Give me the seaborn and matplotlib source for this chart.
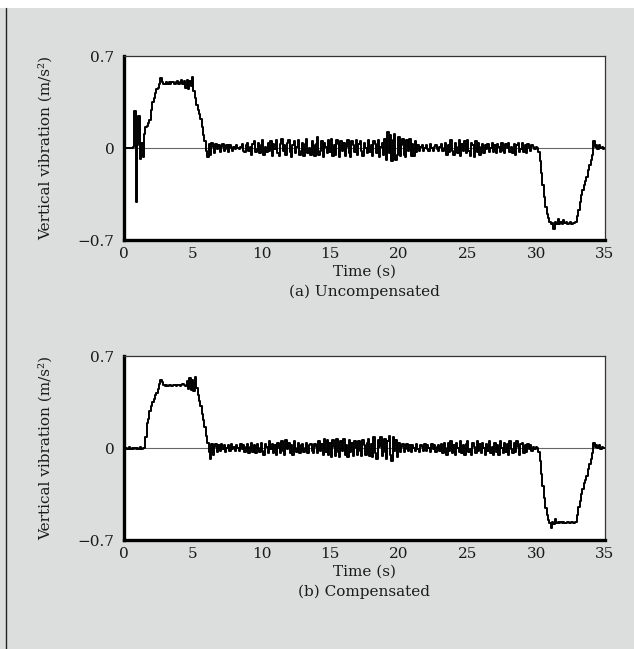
import numpy as np
import matplotlib
matplotlib.use("Agg")
import matplotlib.pyplot as plt
from matplotlib.lines import Line2D
from matplotlib.patches import Rectangle
import seaborn as sns

# Vertical vibration sampled every 0.1 s, one row per second (0 s ... 35 s)
SAMPLE_STEP = 0.1

uncompensated = [
    0.0, 0.0, 0.0, 0.0, 0.0, 0.0, 0.0, 0.01, 0.28, -0.41,
    0.02, 0.24, -0.08, 0.04, -0.07, 0.11, 0.16, 0.17, 0.19, 0.21,
    0.29, 0.35, 0.38, 0.42, 0.45, 0.46, 0.49, 0.53, 0.50, 0.49,
    0.49, 0.50, 0.49, 0.50, 0.49, 0.50, 0.50, 0.49, 0.50, 0.51,
    0.49, 0.50, 0.52, 0.49, 0.51, 0.46, 0.52, 0.45, 0.51, 0.47,
    0.54, 0.43, 0.38, 0.33, 0.29, 0.26, 0.22, 0.16, 0.10, 0.05,
    -0.02, -0.07, 0.03, -0.05, 0.04, 0.01, -0.04, 0.03, -0.01, 0.02,
    -0.03, 0.01, 0.03, -0.02, -0.01, 0.02, -0.03, 0.02, 0.0, -0.02,
    0.01, -0.01, 0.02, 0.0, -0.01, 0.01, 0.03, -0.02, -0.03, 0.02,
    0.04, -0.02, 0.01, -0.05, 0.03, 0.05, -0.03, -0.01, 0.04, -0.04,
    0.02, 0.06, -0.05, 0.01, -0.03, 0.04, -0.02, 0.05, -0.06, 0.03,
    -0.01, 0.06, -0.04, -0.06, 0.03, 0.07, -0.02, 0.02, -0.05, 0.04,
    0.06, -0.03, -0.07, 0.02, 0.05, -0.04, 0.01, 0.06, -0.05, -0.02,
    0.04, -0.06, 0.03, 0.07, -0.04, 0.0, -0.05, 0.05, 0.02, -0.06,
    0.03, 0.08, -0.05, -0.02, 0.05, -0.07, 0.04, 0.01, -0.04, 0.06,
    -0.03, 0.07, -0.06, 0.02, -0.05, 0.06, 0.03, -0.07, 0.05, -0.02,
    0.04, -0.06, 0.01, 0.06, -0.04, -0.07, 0.05, 0.02, -0.03, 0.06,
    -0.05, 0.03, 0.05, -0.02, -0.06, 0.04, 0.0, -0.04, 0.06, -0.03,
    0.02, -0.06, 0.05, 0.03, -0.04, 0.06, -0.07, 0.01, 0.04, -0.05,
    0.07, -0.09, 0.12, -0.04, 0.10, -0.10, 0.06, 0.11, -0.09, -0.05,
    0.08, -0.06, 0.02, 0.07, -0.05, -0.07, 0.06, -0.02, 0.07, -0.06,
    0.03, -0.06, 0.05, -0.03, 0.02, -0.02, 0.01, 0.02, -0.02, 0.0,
    0.02, -0.01, -0.02, 0.03, 0.0, -0.02, 0.01, 0.02, -0.01, -0.02,
    0.01, 0.03, -0.02, 0.0, 0.04, -0.05, 0.02, -0.03, 0.06, -0.02,
    -0.05, 0.04, 0.01, -0.04, 0.06, -0.06, 0.03, -0.02, 0.05, -0.04,
    0.06, -0.02, -0.06, 0.04, 0.02, -0.07, 0.05, -0.03, 0.04, -0.05,
    0.01, 0.03, -0.04, 0.02, -0.01, 0.03, -0.03, 0.0, 0.04, -0.03,
    0.02, -0.04, 0.03, 0.01, -0.03, 0.04, -0.02, -0.04, 0.03, 0.0,
    0.04, -0.03, 0.01, -0.04, 0.03, -0.05, 0.02, 0.04, -0.03, -0.01,
    0.04, -0.03, 0.02, -0.04, 0.03, 0.0, -0.02, 0.02, 0.01, -0.01,
    0.01, 0.0, -0.03, -0.10, -0.19, -0.28, -0.37, -0.45, -0.50, -0.53,
    -0.56, -0.58, -0.57, -0.62, -0.56, -0.58, -0.54, -0.58, -0.56, -0.58,
    -0.55, -0.57, -0.56, -0.58, -0.57, -0.56, -0.58, -0.57, -0.57, -0.56,
    -0.52, -0.47, -0.41, -0.36, -0.32, -0.28, -0.25, -0.22, -0.17, -0.13,
    -0.09, -0.05, 0.05, 0.01, 0.02, -0.01, 0.02, 0.0, 0.01, -0.01,
    0.0,
]

compensated = [
    0.0, -0.01, 0.0, -0.01, 0.01, -0.01, 0.0, -0.01, 0.0, -0.01,
    0.0, -0.01, 0.01, -0.01, 0.0, 0.0, 0.08, 0.19, 0.22, 0.28,
    0.32, 0.35, 0.37, 0.40, 0.42, 0.45, 0.49, 0.52, 0.50, 0.48,
    0.47, 0.48, 0.47, 0.48, 0.48, 0.47, 0.48, 0.48, 0.47, 0.48,
    0.48, 0.47, 0.48, 0.49, 0.48, 0.47, 0.51, 0.45, 0.53, 0.44,
    0.52, 0.43, 0.54, 0.46, 0.40, 0.36, 0.32, 0.26, 0.21, 0.16,
    0.09, 0.04, -0.03, -0.08, 0.03, -0.05, 0.01, 0.03, -0.03, 0.02,
    -0.02, 0.03, -0.01, 0.02, -0.03, 0.0, 0.02, -0.02, 0.03, -0.01,
    0.01, -0.02, 0.02, 0.0, -0.02, 0.03, -0.01, 0.02, -0.03, 0.01,
    0.03, -0.04, 0.01, 0.04, -0.03, 0.02, -0.04, 0.03, 0.0, -0.03,
    0.04, -0.02, -0.05, 0.03, 0.01, -0.04, 0.05, -0.01, 0.03, -0.04,
    0.02, -0.05, 0.04, 0.0, -0.04, 0.05, -0.02, -0.05, 0.06, -0.01,
    0.04, -0.04, 0.02, -0.05, 0.05, 0.0, -0.03, 0.04, -0.04, 0.02,
    0.03, -0.03, 0.0, 0.04, -0.04, 0.02, 0.03, -0.02, -0.04, 0.03,
    0.01, -0.04, 0.05, -0.02, 0.03, -0.05, 0.07, -0.03, 0.06, -0.05,
    0.04, -0.07, 0.06, 0.01, -0.06, 0.07, -0.03, -0.07, 0.05, -0.02,
    0.07, -0.05, 0.02, -0.07, 0.06, -0.03, 0.04, -0.06, 0.05, 0.0,
    -0.05, 0.05, -0.02, -0.06, 0.06, 0.02, -0.05, 0.04, 0.07, -0.06,
    0.03, -0.07, 0.08, -0.04, -0.08, 0.06, 0.01, 0.08, -0.06, -0.03,
    0.07, -0.08, 0.05, 0.09, -0.05, -0.10, 0.08, -0.02, 0.06, -0.07,
    0.04, -0.03, 0.01, 0.03, -0.03, -0.01, 0.03, -0.02, 0.02, -0.03,
    0.02, 0.0, -0.02, 0.03, -0.01, -0.03, 0.02, 0.01, -0.02, 0.03,
    -0.02, 0.02, 0.0, -0.03, 0.03, -0.01, 0.02, -0.03, 0.01, 0.02,
    -0.02, 0.03, -0.04, 0.04, 0.0, -0.05, 0.04, -0.02, 0.05, -0.04,
    0.02, -0.05, 0.04, 0.0, -0.03, 0.05, -0.04, 0.02, -0.05, 0.03,
    0.05, -0.03, -0.01, -0.05, 0.04, 0.01, -0.04, 0.05, -0.02, 0.03,
    -0.04, 0.04, 0.0, -0.05, 0.03, -0.02, 0.05, -0.04, 0.01, -0.05,
    0.04, -0.03, 0.02, -0.05, 0.05, 0.0, -0.04, 0.04, -0.03, 0.03,
    -0.05, 0.05, -0.01, -0.04, 0.04, -0.03, 0.05, 0.01, -0.05, 0.03,
    0.04, -0.04, 0.02, -0.03, 0.03, -0.01, 0.02, -0.02, 0.01, -0.01,
    0.01, 0.0, -0.03, -0.10, -0.20, -0.29, -0.38, -0.46, -0.51, -0.55,
    -0.57, -0.61, -0.56, -0.58, -0.54, -0.57, -0.56, -0.57, -0.56, -0.57,
    -0.56, -0.57, -0.57, -0.56, -0.57, -0.57, -0.56, -0.57, -0.57, -0.56,
    -0.51, -0.45, -0.40, -0.35, -0.31, -0.27, -0.24, -0.21, -0.16, -0.12,
    -0.08, -0.04, 0.04, 0.01, 0.02, 0.0, 0.02, -0.01, 0.01, 0.0,
    0.0,
]

panels = [
    (uncompensated, "(a) Uncompensated"),
    (compensated, "(b) Compensated"),
]
x_ticks = [0, 5, 10, 15, 20, 25, 30, 35]
y_ticks = [-0.7, 0, 0.7]
y_tick_labels = ["\u22120.7", "0", "0.7"]

BG = "#dcdedd"
TEXT = "#1a1a1a"

sns.set_style("white")
plt.rcParams["font.family"] = ["DejaVu Serif"]
plt.rcParams["font.size"] = 10

fig = plt.figure(figsize=(6.34, 6.49), dpi=100, facecolor=BG)

# white strip on top and dark rule down the left side, like the scanned page
fig.add_artist(Rectangle((0, 1 - 8 / 649), 1, 8 / 649, transform=fig.transFigure,
                         facecolor="white", edgecolor="none"))
fig.add_artist(Line2D([5.5 / 634, 5.5 / 634], [0, 1 - 8 / 649], transform=fig.transFigure,
                      color="#222222", lw=1.0))

axes_rects = [
    [124 / 634, 1 - 240 / 649, 481 / 634, 184 / 649],
    [124 / 634, 1 - 540 / 649, 481 / 634, 184 / 649],
]

for (values, caption), rect in zip(panels, axes_rects):
    ax = fig.add_axes(rect)
    ax.set_facecolor("white")
    time = np.arange(len(values)) * SAMPLE_STEP

    ax.axhline(0, color="#666666", lw=0.8, zorder=1)
    # step drawing gives the jagged, digitised look of the measured trace
    sns.lineplot(x=time, y=values, ax=ax, color="black", lw=1.4, zorder=2,
                 drawstyle="steps-mid")

    ax.set_xlim(0, 35)
    ax.set_ylim(-0.7, 0.7)
    ax.set_xticks(x_ticks)
    ax.set_yticks(y_ticks)
    ax.set_yticklabels(y_tick_labels)

    ax.tick_params(axis="x", direction="in", length=5, width=1.4, color="black",
                   labelsize=11, labelcolor=TEXT, pad=5)
    ax.tick_params(axis="y", length=0, labelsize=11, labelcolor=TEXT, pad=7)

    for side in ["left", "bottom"]:
        ax.spines[side].set_linewidth(2.4)
        ax.spines[side].set_color("black")
    for side in ["top", "right"]:
        ax.spines[side].set_linewidth(0.9)
        ax.spines[side].set_color("#333333")

    ax.set_xlabel("Time (s)", fontsize=11, color=TEXT, labelpad=3)
    ax.set_ylabel("Vertical vibration (m/s\u00b2)", fontsize=11, color=TEXT, labelpad=18)
    ax.annotate(caption, xy=(0.5, 0), xycoords="axes fraction",
                xytext=(0, -52), textcoords="offset pixels",
                ha="center", va="center", fontsize=11, color=TEXT)

fig.savefig("out.png", dpi=100, facecolor=BG)
